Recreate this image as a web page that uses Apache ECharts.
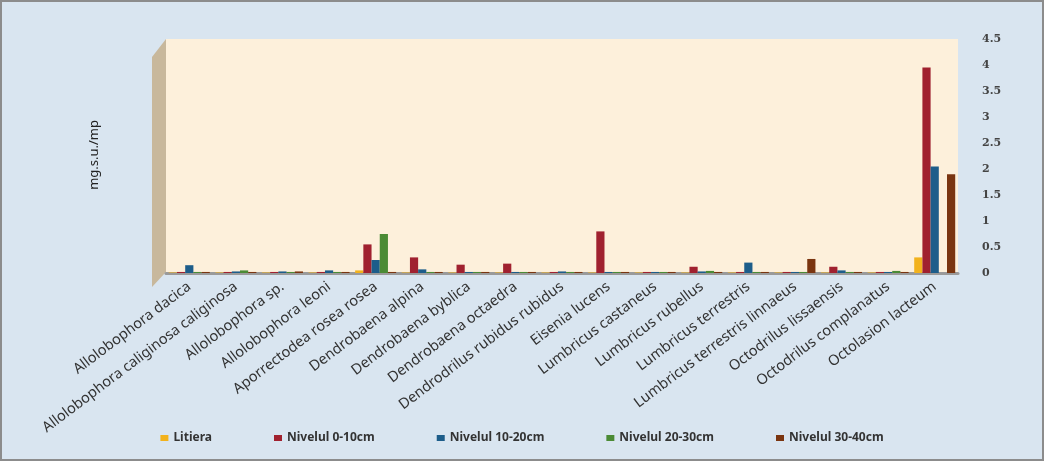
<!DOCTYPE html>
<html>
<head>
<meta charset="utf-8">
<script src="https://cdn.jsdelivr.net/npm/echarts@6/dist/echarts.min.js"></script>
<style>
  html, body { margin: 0; padding: 0; }
  #main { width: 1040px; height: 457px; border: 2px solid #8c8c8c; background: #d9e5f0; }
</style>
</head>
<body>
<div id="main"></div>
<script>
    var categories = ['Allolobophora dacica', 'Allolobophora caliginosa caliginosa', 'Allolobophora sp.',
        'Allolobophora leoni', 'Aporrectodea rosea rosea', 'Dendrobaena alpina', 'Dendrobaena byblica',
        'Dendrobaena octaedra', 'Dendrodrilus rubidus rubidus', 'Eisenia lucens', 'Lumbricus castaneus',
        'Lumbricus rubellus', 'Lumbricus terrestris', 'Lumbricus terrestris linnaeus', 'Octodrilus lissaensis',
        'Octodrilus complanatus', 'Octolasion lacteum'];

    var litiera   = [0.01, 0.01, 0.01, 0.01, 0.05, 0.01, 0.01, 0.01, 0.01, 0.01, 0.01, 0.01, 0.01, 0.01, 0.01, 0.01, 0.3];
    var nivel0_10 = [0.02, 0.02, 0.02, 0.02, 0.55, 0.3, 0.16, 0.18, 0.02, 0.8, 0.02, 0.12, 0.02, 0.02, 0.12, 0.02, 3.95];
    var nivel10_20 = [0.15, 0.03, 0.03, 0.05, 0.25, 0.07, 0.02, 0.02, 0.03, 0.02, 0.02, 0.03, 0.2, 0.02, 0.05, 0.02, 2.05];
    var nivel20_30 = [0.02, 0.05, 0.02, 0.02, 0.75, 0.02, 0.02, 0.02, 0.02, 0.02, 0.02, 0.04, 0.02, 0.02, 0.02, 0.04, 0];
    var nivel30_40 = [0.02, 0.02, 0.03, 0.02, 0.02, 0.02, 0.02, 0.02, 0.02, 0.02, 0.02, 0.02, 0.02, 0.27, 0.02, 0.02, 1.9];

    var seriesNames = ['Litiera', 'Nivelul 0-10cm', 'Nivelul 10-20cm', 'Nivelul 20-30cm', 'Nivelul 30-40cm'];
    var seriesData = [litiera, nivel0_10, nivel10_20, nivel20_30, nivel30_40];
    var colors = ['#f2b21c', '#a0212f', '#1d5d8a', '#4b8b35', '#7a3510'];

    var myChart = echarts.init(document.getElementById('main'));

    var option = {
        color: colors,
        legend: {
            bottom: 10,
            left: 'center',
            itemWidth: 8,
            itemHeight: 6,
            itemGap: 62,
            icon: 'rect',
            textStyle: { fontFamily: 'Noto Sans', fontSize: 12, fontWeight: 'bold', color: '#333' },
            data: seriesNames
        },
        graphic: [
            {
                type: 'polygon',
                shape: { points: [[150, 55], [164, 37], [164, 270], [150, 285]] },
                style: { fill: '#c8b89c' },
                z: 0
            },
            {
                type: 'text',
                left: 86,
                top: 118,
                rotation: Math.PI / 2,
                style: { text: 'mg.s.u./mp', font: '13px "Noto Sans"', fill: '#222' }
            }
        ],
        grid: {
            left: 164,
            right: 84,
            top: 37,
            bottom: 186,
            show: true,
            backgroundColor: '#fdf0db',
            borderWidth: 0
        },
        xAxis: {
            type: 'category',
            data: categories,
            axisLine: { lineStyle: { color: '#9a9a9a', width: 3 } },
            axisTick: { show: false },
            axisLabel: {
                interval: 0,
                rotate: 37,
                margin: 12,
                fontFamily: 'Noto Sans',
                fontSize: 14.5,
                color: '#333'
            }
        },
        yAxis: {
            type: 'value',
            position: 'right',
            min: 0,
            max: 4.5,
            interval: 0.5,
            splitLine: { show: false },
            axisLine: { show: false },
            axisTick: { show: false },
            axisLabel: {
                margin: 24,
                fontFamily: 'DejaVu Serif',
                fontWeight: 'bold',
                fontSize: 11,
                color: '#444'
            }
        },
        series: seriesNames.map(function (name, i) {
            return {
                name: name,
                type: 'bar',
                data: seriesData[i],
                barGap: '0%',
                barCategoryGap: '12%'
            };
        })
    };

    myChart.setOption(option);
</script>
</body>
</html>
